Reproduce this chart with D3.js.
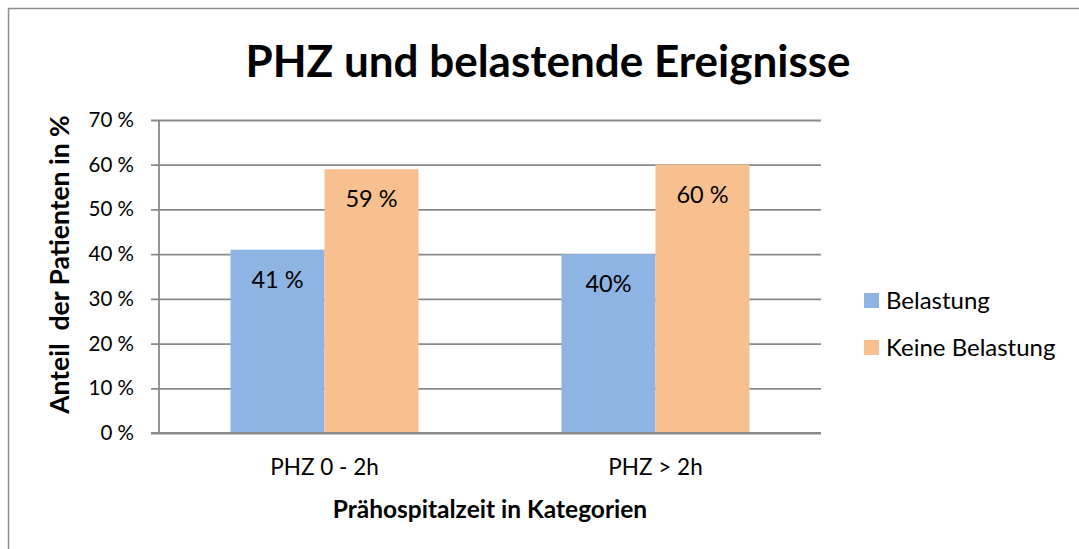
<!DOCTYPE html>
<html>
<head>
<meta charset="utf-8">
<script src="https://cdn.jsdelivr.net/npm/d3@7"></script>
<style>
  body { margin: 0; background: #fff; }
  svg text { font-family: Lato, "Open Sans", sans-serif; fill: #000; }
</style>
</head>
<body>
<div class="chart"></div>
<script>
"use strict";
const categories = ["PHZ 0 - 2h", "PHZ > 2h"];
const seriesNames = ["Belastung", "Keine Belastung"];
const belastung = [41, 40];
const keineBelastung = [59, 60];
const valueLabels = [["41 %", "40%"], ["59 %", "60 %"]];
const yTicks = [0, 10, 20, 30, 40, 50, 60, 70];
const colors = ["#8eb4e3", "#f9c08f"];

const W = 1079, H = 549;
const margin = {top: 120, right: 258, bottom: 116, left: 159};
const width = W - margin.left - margin.right;
const height = H - margin.top - margin.bottom;

const svg = d3.select(".chart").append("svg")
    .attr("width", W)
    .attr("height", H);

// outer chart frame (only top/left visible)
svg.append("rect")
    .attr("x", 8.5).attr("y", 8.5)
    .attr("width", 1200).attr("height", 700)
    .style("fill", "none")
    .style("stroke", "#8c8c8c")
    .style("stroke-width", 1.5);

svg.append("text")
    .attr("x", 548).attr("y", 77)
    .attr("text-anchor", "middle")
    .style("font-size", "44px")
    .style("font-weight", "bold")
    .text("PHZ und belastende Ereignisse");

const g = svg.append("g")
    .attr("transform", "translate(" + margin.left + "," + margin.top + ")");

const x0 = d3.scaleBand().domain(categories).range([0, width])
    .paddingInner(0.432).paddingOuter(0.216);
const x1 = d3.scaleBand().domain(seriesNames).range([0, x0.bandwidth()]);
const y = d3.scaleLinear().domain([0, 70]).range([height, 0]);

// gridlines + y axis
const yAxis = d3.axisLeft(y).tickValues(yTicks)
    .tickSize(-width - 8).tickSizeOuter(0)
    .tickFormat(d => d + " %");
const gy = g.append("g").call(yAxis);
gy.select(".domain").remove();
gy.selectAll(".tick line")
    .attr("x1", -8).attr("x2", width)
    .style("stroke", "#898989").style("stroke-width", 1.8);
gy.selectAll(".tick text")
    .attr("x", -25)
    .style("font-size", "20.5px");

g.append("line")
    .attr("x1", 0).attr("x2", 0).attr("y1", 0).attr("y2", height)
    .style("stroke", "#898989").style("stroke-width", 1.8);

const data = categories.map((c, i) => ({cat: c, vals: [belastung[i], keineBelastung[i]]}));

const groups = g.selectAll(".grp").data(data).enter().append("g")
    .attr("transform", d => "translate(" + x0(d.cat) + ",0)");

groups.selectAll("rect")
    .data(d => d.vals.map((v, k) => ({name: seriesNames[k], v: v, k: k})))
    .enter().append("rect")
    .attr("x", d => x1(d.name))
    .attr("width", x1.bandwidth())
    .attr("y", d => y(d.v))
    .attr("height", d => height - y(d.v))
    .style("fill", d => colors[d.k]);

groups.each(function (d, i) {
    d3.select(this).selectAll(".lbl")
        .data(d.vals.map((v, k) => ({name: seriesNames[k], v: v, k: k})))
        .enter().append("text")
        .attr("x", e => x1(e.name) + x1.bandwidth() / 2)
        .attr("y", e => y(e.v) + 38)
        .attr("text-anchor", "middle")
        .style("font-size", "23.5px")
        .text(e => valueLabels[e.k][i]);
});

// x axis line
g.append("line")
    .attr("x1", -8).attr("x2", width).attr("y1", height).attr("y2", height)
    .style("stroke", "#898989").style("stroke-width", 1.8);

g.selectAll(".cat").data(categories).enter().append("text")
    .attr("x", d => x0(d) + x0.bandwidth() / 2)
    .attr("y", height + 42)
    .attr("text-anchor", "middle")
    .style("font-size", "22.5px")
    .text(d => d);

g.append("text")
    .attr("x", width / 2)
    .attr("y", height + 85)
    .attr("text-anchor", "middle")
    .style("font-size", "24.5px")
    .style("font-weight", "bold")
    .text("Prähospitalzeit in Kategorien");

g.append("text")
    .attr("transform", "translate(-90," + (height / 2 - 12) + ") rotate(-90)")
    .attr("text-anchor", "middle")
    .style("font-size", "26.5px")
    .style("font-weight", "bold")
    .text("Anteil \u00a0der Patienten in %");

// legend
const legend = svg.selectAll(".leg").data(seriesNames).enter().append("g")
    .attr("transform", (d, i) => "translate(864," + (293 + i * 47) + ")");
legend.append("rect")
    .attr("width", 15).attr("height", 15)
    .style("fill", (d, i) => colors[i]);
legend.append("text")
    .attr("x", 22).attr("y", 16)
    .style("font-size", "24px")
    .text(d => d);
</script>
</body>
</html>
